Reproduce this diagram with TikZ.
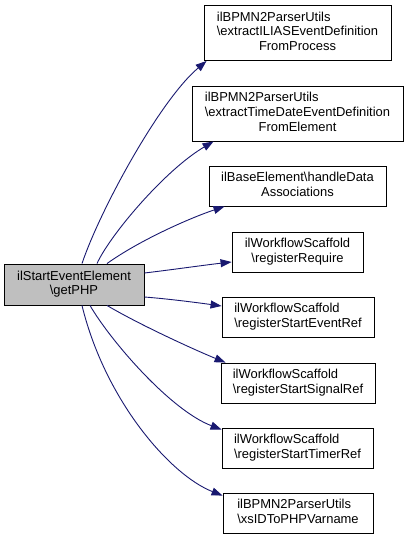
\documentclass[tikz,border=0pt]{standalone}
\usepackage{fontspec}
\setmainfont{Liberation Sans}
\usetikzlibrary{arrows.meta}
\definecolor{edgeblue}{HTML}{191970}
\definecolor{nodegray}{HTML}{BFBFBF}
\newcommand{\lbl}[2]{\begin{tabular}{@{}l@{}}#1\\\multicolumn{1}{@{}c@{}}{#2}\end{tabular}}
\begin{document}
\begin{tikzpicture}[x=1bp,y=-1bp,
  font=\fontsize{13}{15}\selectfont,
  box/.style={draw=black, line width=0.9bp, fill=white, inner sep=0pt, minimum height=40bp, rectangle},
  call/.style={draw=edgeblue, line width=0.9bp, -{Triangle[length=11bp,width=8bp]}, fill=none}]
\useasboundingbox (0,0) rectangle (409,539);
\node[box, fill=nodegray, minimum width=140bp, minimum height=41bp] (L) at (74,284.5)
  {\lbl{ilStartEventElement}{\textbackslash getPHP}};
\node[box, minimum width=187bp, minimum height=55bp] (B1) at (297.5,33)
  {\lbl{ilBPMN2ParserUtils\\\textbackslash extractILIASEventDefinition}{FromProcess}};
\node[box, minimum width=211bp, minimum height=55bp] (B2) at (297.5,113.5)
  {\lbl{ilBPMN2ParserUtils\\\textbackslash extractTimeDateEventDefinition}{FromElement}};
\node[box, minimum width=177bp] (B3) at (297.5,186)
  {\lbl{ilBaseElement\textbackslash handleData}{Associations}};
\node[box, minimum width=131bp] (B4) at (297.5,252)
  {\lbl{ilWorkflowScaffold}{\textbackslash registerRequire}};
\node[box, minimum width=152bp] (B5) at (298,317)
  {\lbl{ilWorkflowScaffold}{\textbackslash registerStartEventRef}};
\node[box, minimum width=154bp] (B6) at (298,383)
  {\lbl{ilWorkflowScaffold}{\textbackslash registerStartSignalRef}};
\node[box, minimum width=151bp] (B7) at (297.5,448)
  {\lbl{ilWorkflowScaffold}{\textbackslash registerStartTimerRef}};
\node[box, minimum width=150bp] (B8) at (298,513)
  {\lbl{ilBPMN2ParserUtils}{\textbackslash xsIDToPHPVarname}};

\draw[call] ([xshift=8bp]L.north) .. controls (100,210) and (160,100) .. ([xshift=3bp]B1.south west);
\draw[call] ([xshift=23bp]L.north) .. controls (110,235) and (165,170) .. ([xshift=22bp]B2.south west);
\draw[call] ([xshift=33bp]L.north) .. controls (140,240) and (190,218) .. ([xshift=16bp]B3.south west);
\draw[call] ([yshift=11.5bp]L.east) .. controls (170,270) and (205,265) .. ([yshift=-10bp]B4.west);
\draw[call] ([yshift=-12.5bp]L.east) .. controls (170,299) and (200,303) .. ([yshift=11bp]B5.west);
\draw[call] ([xshift=33bp]L.south) .. controls (140,325) and (195,350) .. ([xshift=5bp]B6.north west);
\draw[call] ([xshift=16bp]L.south) .. controls (110,340) and (170,410) .. ([yshift=-2bp]B7.north west);
\draw[call] ([xshift=8bp]L.south) .. controls (105,400) and (170,475) .. ([yshift=-3bp]B8.north west);
\end{tikzpicture}
\end{document}
